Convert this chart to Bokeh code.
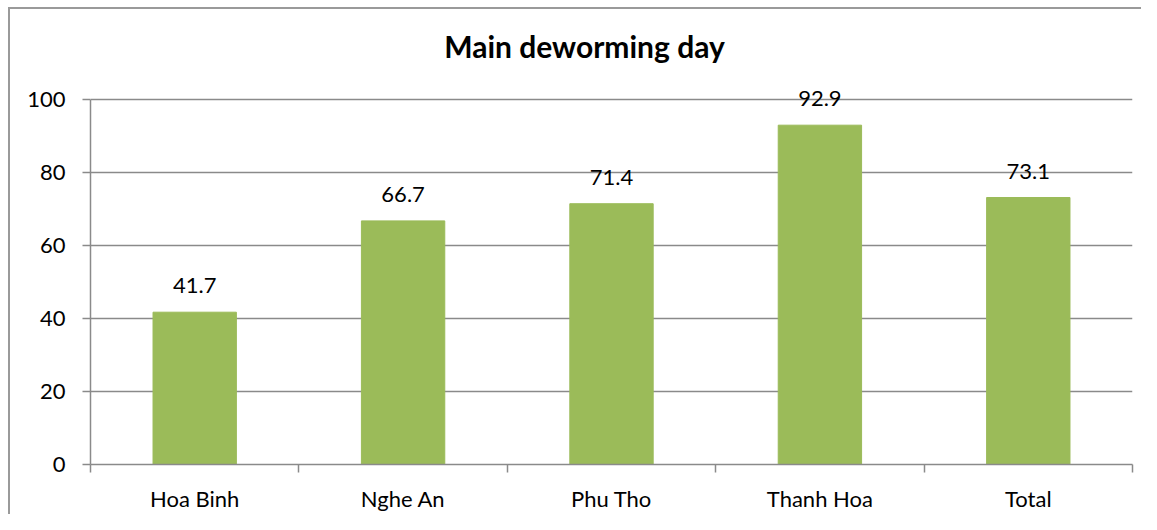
from bokeh.plotting import figure
from bokeh.models import Range1d, FixedTicker, ColumnDataSource, LabelSet, Label
from bokeh.core.properties import value
from bokeh.embed import file_html
from bokeh.resources import INLINE

title = "Main deworming day"
categories = ["Hoa Binh", "Nghe An", "Phu Tho", "Thanh Hoa", "Total"]
values = [41.7, 66.7, 71.4, 92.9, 73.1]
y_ticks = [0, 20, 40, 60, 80, 100]

FONT = "Lato"
GRID = "#8a8a8a"
BAR = "#9BBB59"
FS = "22px"

xs = [i + 0.5 for i in range(len(categories))]
src = ColumnDataSource(dict(x=xs, top=values, label=[f"{v:.1f}" for v in values]))

# extra head-room above the 100 line holds the title and the tallest label
p = figure(width=1141, height=514, output_backend="svg", toolbar_location=None,
           x_range=Range1d(0, len(categories)), y_range=Range1d(0, 124.3),
           min_border_left=90, min_border_right=9, min_border_top=10, min_border_bottom=48)
p.styles = {
    "background": "linear-gradient(#9a9a9a,#9a9a9a) 8px 7px / 2px 100% no-repeat, "
                  "linear-gradient(#9a9a9a,#9a9a9a) 8px 7px / 100% 2px no-repeat, white",
}
p.border_fill_color = None
p.background_fill_color = None

p.vbar(x="x", top="top", width=0.4, bottom=0, color=BAR, source=src)
labels = LabelSet(x="x", y="top", text="label", source=src, text_align="center",
                  text_baseline="alphabetic", y_offset=19, text_font=value(FONT),
                  text_font_size=FS, text_color="black")
p.add_layout(labels)

p.add_layout(Label(x=len(categories) / 2, y=y_ticks[-1], x_offset=-27, y_offset=53,
                   text=title, text_align="center", text_baseline="alphabetic",
                   text_font=FONT, text_font_size="30px", text_font_style="bold",
                   text_color="black"))

# y axis
p.yaxis.ticker = FixedTicker(ticks=y_ticks)
p.yaxis.bounds = (y_ticks[0], y_ticks[-1])
p.yaxis.axis_line_color = GRID
p.yaxis.axis_line_width = 1.5
p.yaxis.major_tick_line_color = GRID
p.yaxis.major_tick_line_width = 1.5
p.yaxis.major_tick_in = 0
p.yaxis.major_tick_out = 8
p.yaxis.minor_tick_line_color = None
p.yaxis.major_label_standoff = 17
p.yaxis.major_label_text_font = FONT
p.yaxis.major_label_text_font_size = FS
p.yaxis.major_label_text_color = "black"

# x axis: labels at category centres, ticks at boundaries
p.xaxis.ticker = FixedTicker(ticks=xs, minor_ticks=list(range(len(categories) + 1)))
p.xaxis.major_label_overrides = {x: c for x, c in zip(xs, categories)}
p.xaxis.axis_line_color = GRID
p.xaxis.axis_line_width = 1.5
p.xaxis.major_tick_line_color = None
p.xaxis.major_tick_in = 0
p.xaxis.major_tick_out = 0
p.xaxis.minor_tick_line_color = GRID
p.xaxis.minor_tick_line_width = 1.5
p.xaxis.minor_tick_in = 0
p.xaxis.minor_tick_out = 8
p.xaxis.major_label_standoff = 12
p.xaxis.major_label_text_font = FONT
p.xaxis.major_label_text_font_size = FS
p.xaxis.major_label_text_color = "black"

p.xgrid.grid_line_color = None
p.ygrid.grid_line_color = GRID
p.ygrid.grid_line_width = 1.5
p.outline_line_color = None

open("out.html", "w").write(file_html(p, INLINE))
